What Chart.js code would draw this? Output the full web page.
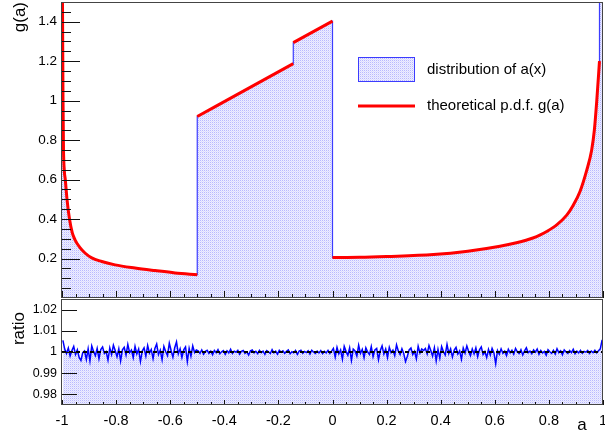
<!DOCTYPE html>
<html>
<head>
<meta charset="utf-8">
<script src="https://cdn.jsdelivr.net/npm/chart.js@4.4.0/dist/chart.umd.min.js"></script>
<style>
  html, body { margin: 0; padding: 0; background: #fff; }
  #wrap { position: relative; width: 605px; height: 436px; overflow: hidden; }
  #topBox { position: absolute; left: 0; top: 0; }
  #botBox { position: absolute; left: 0; top: 298px; }
</style>
</head>
<body>
<div id="wrap">
  <div id="topBox"><canvas id="topChart" width="605" height="300"></canvas></div>
  <div id="botBox"><canvas id="ratioChart" width="605" height="138"></canvas></div>
</div>
<script>
const xTickValues = [-1, -0.8, -0.6, -0.4, -0.2, 0, 0.2, 0.4, 0.6, 0.8, 1];
const xTickLabels = ["-1", "-0.8", "-0.6", "-0.4", "-0.2", "0", "0.2", "0.4", "0.6", "0.8", "1"];
const gTickValues = [0.2, 0.4, 0.6, 0.8, 1, 1.2, 1.4];
const gTickLabels = ["0.2", "0.4", "0.6", "0.8", "1", "1.2", "1.4"];
const ratioTickValues = [0.98, 0.99, 1, 1.01, 1.02];
const ratioTickLabels = ["0.98", "0.99", "1", "1.01", "1.02"];

// theoretical p.d.f. g(a); null breaks the curve between its pieces
const curveA = [-0.999, -0.9982, -0.9963, -0.9945, -0.9878, -0.9815, -0.9723, -0.9619, -0.9519, -0.9335,
  -0.915, -0.89, -0.853, -0.804, -0.73, -0.656, -0.582, -0.5,
  -0.5, -0.5, -0.145,
  -0.145, -0.145, 0,
  0, 0, 0.1, 0.2, 0.373, 0.5, 0.619, 0.68, 0.741, 0.77, 0.792, 0.83, 0.866, 0.89, 0.915, 0.94, 0.958, 0.968, 0.977, 0.987];
const curveG = [1.6, 1.5, 1.0, 0.75, 0.6, 0.5, 0.4, 0.33, 0.295, 0.255,
  0.228, 0.203, 0.185, 0.168, 0.152, 0.139, 0.127, 0.118,
  null, 0.92, 1.188,
  null, 1.294, 1.403,
  null, 0.205, 0.206, 0.21, 0.22, 0.237, 0.262, 0.28, 0.304, 0.321, 0.337, 0.372, 0.42, 0.47, 0.54, 0.648, 0.749, 0.85, 1.0, 1.2];

// distribution of a(x), outline of the histogram
const histA = [-1, -0.999, -0.9982, -0.9963, -0.9945, -0.9878, -0.9815, -0.9723, -0.9619, -0.9519,
  -0.9335, -0.915, -0.89, -0.853, -0.804, -0.73, -0.656, -0.582, -0.5, -0.5,
  -0.145, -0.145, 0, 0, 0.1, 0.2, 0.373, 0.5, 0.619, 0.68, 0.741, 0.77,
  0.792, 0.83, 0.866, 0.89, 0.915, 0.94, 0.958, 0.968, 0.977, 0.987, 0.987, 1];
const histH = [1.6, 1.6, 1.5, 1.0, 0.75, 0.6, 0.5, 0.4, 0.33, 0.295,
  0.255, 0.228, 0.203, 0.185, 0.168, 0.152, 0.139, 0.127, 0.118, 0.92,
  1.188, 1.294, 1.403, 0.205, 0.206, 0.21, 0.22, 0.237, 0.262, 0.28, 0.304, 0.321,
  0.337, 0.372, 0.42, 0.47, 0.54, 0.648, 0.749, 0.85, 1.0, 1.2, 1.6, 1.6];

// ratio histogram / theory, 300 bins over [-1, 1]
const ratioV = [
  1.0055, 1.0014, 0.9993, 1.0019, 0.9981, 1.0007, 1.0026, 0.9988, 1.0010, 0.9974,
  0.9960, 0.9997, 1.0005, 0.9965, 1.0015, 0.9958, 1.0029, 1.0003, 0.9983, 1.0017,
  0.9968, 1.0012, 1.0024, 0.9993, 1.0002, 0.9962, 1.0019, 0.9988, 1.0032, 1.0007,
  0.9978, 1.0015, 0.9958, 1.0010, 1.0022, 0.9986, 1.0036, 0.9997, 1.0009, 0.9973,
  1.0027, 0.9991, 1.0014, 0.9955, 1.0005, 1.0020, 0.9981, 1.0031, 0.9995, 1.0012,
  0.9969, 1.0017, 1.0038, 0.9988, 1.0009, 0.9963, 1.0026, 1.0002, 0.9983, 1.0042,
  1.0007, 0.9976, 1.0020, 1.0048, 0.9991, 1.0015, 0.9974, 1.0010, 1.0024, 0.9955,
  1.0017, 0.9980, 1.0029, 0.9998, 1.0010,
  1.0006, 0.9994, 1.0010, 0.9990, 1.0003, 1.0008, 0.9993, 1.0004, 0.9987, 1.0007,
  0.9997, 1.0011, 0.9992, 1.0001, 1.0007, 0.9989, 1.0006, 0.9996, 1.0013, 0.9993,
  1.0004, 0.9999, 1.0008, 0.9990, 1.0003, 1.0007, 0.9994, 1.0001, 0.9986, 1.0006,
  1.0010, 0.9996, 1.0003, 0.9992, 1.0008, 0.9997, 1.0004, 0.9989, 1.0007, 1.0001,
  0.9993, 1.0011, 0.9996, 1.0004, 0.9990, 1.0008, 0.9999, 1.0006, 0.9994, 1.0003,
  1.0010, 0.9992, 1.0001, 0.9996, 1.0007, 0.9989, 1.0004, 1.0008, 0.9994, 1.0003,
  0.9997, 1.0006, 0.9990, 1.0008, 1.0000, 0.9993, 1.0004, 0.9996, 1.0007, 0.9992,
  1.0003, 0.9996, 1.0008, 0.9993, 1.0004,
  1.0017, 0.9976, 1.0022, 0.9991, 1.0010, 0.9966, 1.0027, 1.0003, 0.9985, 1.0019,
  0.9961, 1.0014, 1.0005, 0.9981, 1.0032, 0.9993, 1.0012, 0.9973, 1.0020, 1.0000,
  0.9988, 1.0026, 0.9978, 1.0010, 1.0017, 0.9964, 1.0007, 1.0029, 0.9990, 1.0014,
  0.9974, 1.0022, 0.9997, 1.0009, 0.9983, 1.0034, 1.0005, 0.9988, 1.0015, 0.9993,
  0.9955, 0.9980, 1.0010, 1.0019, 0.9988, 1.0003, 0.9968, 1.0027, 0.9995, 1.0014,
  1.0007, 1.0017, 0.9991, 1.0031, 1.0007, 0.9981, 1.0020, 0.9958, 1.0012, 0.9971,
  1.0026, 1.0002, 0.9986, 1.0036, 0.9993, 1.0015, 0.9976, 1.0009, 1.0022, 0.9990,
  1.0005, 0.9966, 1.0019, 0.9995, 1.0029, 1.0003, 0.9983, 1.0014, 0.9991, 1.0020,
  0.9978, 1.0010, 1.0024, 0.9988, 1.0002, 0.9974, 1.0012, 0.9985, 1.0017, 0.9997,
  0.9945, 1.0007, 0.9989, 1.0015, 0.9994, 1.0004, 0.9983, 1.0013, 0.9996, 1.0008,
  0.9990, 1.0017, 1.0001, 0.9993, 1.0011, 0.9986, 1.0006, 1.0020, 0.9997, 1.0004,
  0.9992, 1.0010, 0.9999, 1.0014, 0.9989, 1.0007, 0.9996, 1.0003, 0.9985, 1.0011,
  1.0001, 0.9994, 1.0008, 0.9990, 1.0015, 0.9997, 1.0006, 0.9987, 1.0010, 1.0000,
  0.9993, 1.0007, 0.9997, 1.0013, 0.9992, 1.0004, 0.9996, 1.0008, 0.9994, 1.0003,
  0.9999, 1.0007, 0.9993, 1.0004, 0.9997, 1.0008, 0.9996, 1.0006, 1.0015, 1.0057
];

const FONT = "'Liberation Sans', Arial, Helvetica, sans-serif";

// light dotted fill like ROOT's pattern fill
function makeHatch(ctx) {
  const c = document.createElement("canvas");
  c.width = 2;
  c.height = 2;
  const g = c.getContext("2d");
  g.fillStyle = "#eeeeff";
  g.fillRect(0, 0, 2, 2);
  g.fillStyle = "#b8b8ff";
  g.fillRect(0, 0, 1, 1);
  g.fillStyle = "#dcdcff";
  g.fillRect(1, 1, 1, 1);
  return ctx.createPattern(c, "repeat");
}

function tickList(min, max, step) {
  const out = [];
  for (let k = 0; min + k * step <= max + 1e-9; k++) out.push(min + k * step);
  return out;
}

// frame, inward ticks, axis titles and legend drawn the ROOT way
const rootFrame = {
  id: "rootFrame",
  afterDatasetsDraw(chart, args, o) {
    const { ctx, chartArea: a } = chart;
    const sx = chart.scales.x;
    const sy = chart.scales.y;
    ctx.save();
    ctx.strokeStyle = "#111";
    ctx.lineWidth = 1;
    ctx.beginPath();
    tickList(-1, 1, 0.05).forEach((v, k) => {
      const px = Math.round(sx.getPixelForValue(v)) + 0.5;
      const len = k % 4 === 0 ? o.xMajorLen : o.xMinorLen;
      ctx.moveTo(px, a.bottom);
      ctx.lineTo(px, a.bottom - len);
    });
    o.yTicks.forEach((v) => {
      const py = Math.round(sy.getPixelForValue(v)) + 0.5;
      const major = o.yMajor.some((m) => Math.abs(m - v) < 1e-6);
      ctx.moveTo(a.left, py);
      ctx.lineTo(a.left + (major ? o.yMajorLen : o.yMinorLen), py);
    });
    ctx.stroke();

    ctx.strokeStyle = "#444";
    ctx.strokeRect(a.left - 0.5, a.top + 0.5, a.right - a.left, a.bottom - a.top - 1);

    ctx.fillStyle = "#000";
    ctx.font = "17px " + FONT;
    ctx.textBaseline = "middle";
    ctx.textAlign = "right";
    ctx.save();
    ctx.translate(o.yTitleX, o.yTitleEnd);
    ctx.rotate(-Math.PI / 2);
    ctx.fillText(o.yTitle, 0, 0);
    ctx.restore();

    if (o.xTitle) {
      ctx.textAlign = "center";
      ctx.textBaseline = "alphabetic";
      ctx.fillText(o.xTitle, o.xTitleX, o.xTitleY);
    }

    if (o.legend) {
      const hist = chart.data.datasets[1];
      const curve = chart.data.datasets[0];
      ctx.fillStyle = hist.backgroundColor;
      ctx.fillRect(358, 57, 57, 25);
      ctx.strokeStyle = hist.borderColor;
      ctx.strokeRect(358.5, 57.5, 56, 24);
      ctx.strokeStyle = curve.borderColor;
      ctx.lineWidth = 3;
      ctx.beginPath();
      ctx.moveTo(358, 106);
      ctx.lineTo(415, 106);
      ctx.stroke();
      ctx.fillStyle = "#000";
      ctx.font = "15px " + FONT;
      ctx.textAlign = "left";
      ctx.textBaseline = "middle";
      ctx.fillText(hist.label, 427, 70);
      ctx.fillText(curve.label, 427, 106);
    }
    ctx.restore();
  },
};

window.onload = function () {
  const topCtx = document.getElementById("topChart").getContext("2d");
  const botCtx = document.getElementById("ratioChart").getContext("2d");
  const hatchTop = makeHatch(topCtx);
  const hatchBot = makeHatch(botCtx);

  new Chart(topCtx, {
    type: "line",
    data: {
      datasets: [
        {
          label: "theoretical p.d.f. g(a)",
          data: curveA.map((a, i) => ({ x: a, y: curveG[i] })),
          borderColor: "#ff0000",
          borderWidth: 3,
          pointRadius: 0,
          cubicInterpolationMode: "monotone",
          spanGaps: false,
          fill: false,
        },
        {
          label: "distribution of a(x)",
          data: histA.map((a, i) => ({ x: a, y: histH[i] })),
          borderColor: "#3c3cff",
          backgroundColor: hatchTop,
          borderWidth: 1.2,
          pointRadius: 0,
          tension: 0,
          fill: "origin",
        },
      ],
    },
    options: {
      responsive: false,
      animation: false,
      events: [],
      layout: { padding: { top: 2, right: 2, bottom: 2, left: 0 } },
      scales: {
        x: { type: "linear", min: -1, max: 1, display: false },
        y: {
          type: "linear",
          min: 0,
          max: 1.5,
          grid: { display: false, drawTicks: false },
          border: { display: false },
          afterBuildTicks: (s) => { s.ticks = gTickValues.map((v) => ({ value: v })); },
          afterFit: (s) => { s.width = 62; s.paddingTop = 0; s.paddingBottom = 0; },
          ticks: {
            autoSkip: false,
            padding: 5,
            color: "#000",
            font: { family: FONT, size: 13.5 },
            callback: (v, i) => gTickLabels[i],
          },
        },
      },
      plugins: {
        legend: { display: false },
        tooltip: { enabled: false },
        rootFrame: {
          xMajorLen: 7,
          xMinorLen: 4,
          yTicks: tickList(0.05, 1.45, 0.05),
          yMajor: gTickValues,
          yMajorLen: 18,
          yMinorLen: 9,
          yTitle: "g(a)",
          yTitleX: 20,
          yTitleEnd: 2,
          legend: true,
        },
      },
    },
    plugins: [rootFrame],
  });

  const nBins = ratioV.length;
  new Chart(botCtx, {
    type: "line",
    data: {
      datasets: [
        {
          label: "unity",
          data: [{ x: -1, y: 1 }, { x: 1, y: 1 }],
          borderColor: "#000",
          borderWidth: 2,
          borderDash: [4, 3],
          pointRadius: 0,
          fill: false,
        },
        {
          label: "ratio",
          data: ratioV.map((v, i) => ({ x: -1 + ((i + 0.5) * 2) / nBins, y: v })),
          borderColor: "#0000ff",
          backgroundColor: hatchBot,
          borderWidth: 1.5,
          pointRadius: 0,
          tension: 0,
          fill: "start",
        },
      ],
    },
    options: {
      responsive: false,
      animation: false,
      events: [],
      layout: { padding: { top: 1, right: 2, bottom: 0, left: 0 } },
      scales: {
        x: {
          type: "linear",
          min: -1,
          max: 1,
          grid: { display: false, drawTicks: false },
          border: { display: false },
          afterBuildTicks: (s) => { s.ticks = xTickValues.map((v) => ({ value: v })); },
          afterFit: (s) => { s.height = 31; s.paddingLeft = 0; s.paddingRight = 0; },
          ticks: {
            autoSkip: false,
            maxRotation: 0,
            padding: 7,
            color: "#000",
            font: { family: FONT, size: 14.5 },
            callback: (v, i) => xTickLabels[i],
          },
        },
        y: {
          type: "linear",
          min: 0.975,
          max: 1.025,
          grid: { display: false, drawTicks: false },
          border: { display: false },
          afterBuildTicks: (s) => { s.ticks = ratioTickValues.map((v) => ({ value: v })); },
          afterFit: (s) => { s.width = 62; s.paddingTop = 0; s.paddingBottom = 0; },
          ticks: {
            autoSkip: false,
            padding: 5,
            color: "#000",
            font: { family: FONT, size: 12.5 },
            callback: (v, i) => ratioTickLabels[i],
          },
        },
      },
      plugins: {
        legend: { display: false },
        tooltip: { enabled: false },
        rootFrame: {
          xMajorLen: 5,
          xMinorLen: 3,
          yTicks: ratioTickValues,
          yMajor: ratioTickValues,
          yMajorLen: 15,
          yMinorLen: 0,
          yTitle: "ratio",
          yTitleX: 19,
          yTitleEnd: 14,
          xTitle: "a",
          xTitleX: 582,
          xTitleY: 132,
          legend: false,
        },
      },
    },
    plugins: [rootFrame],
  });
};
</script>
</body>
</html>
